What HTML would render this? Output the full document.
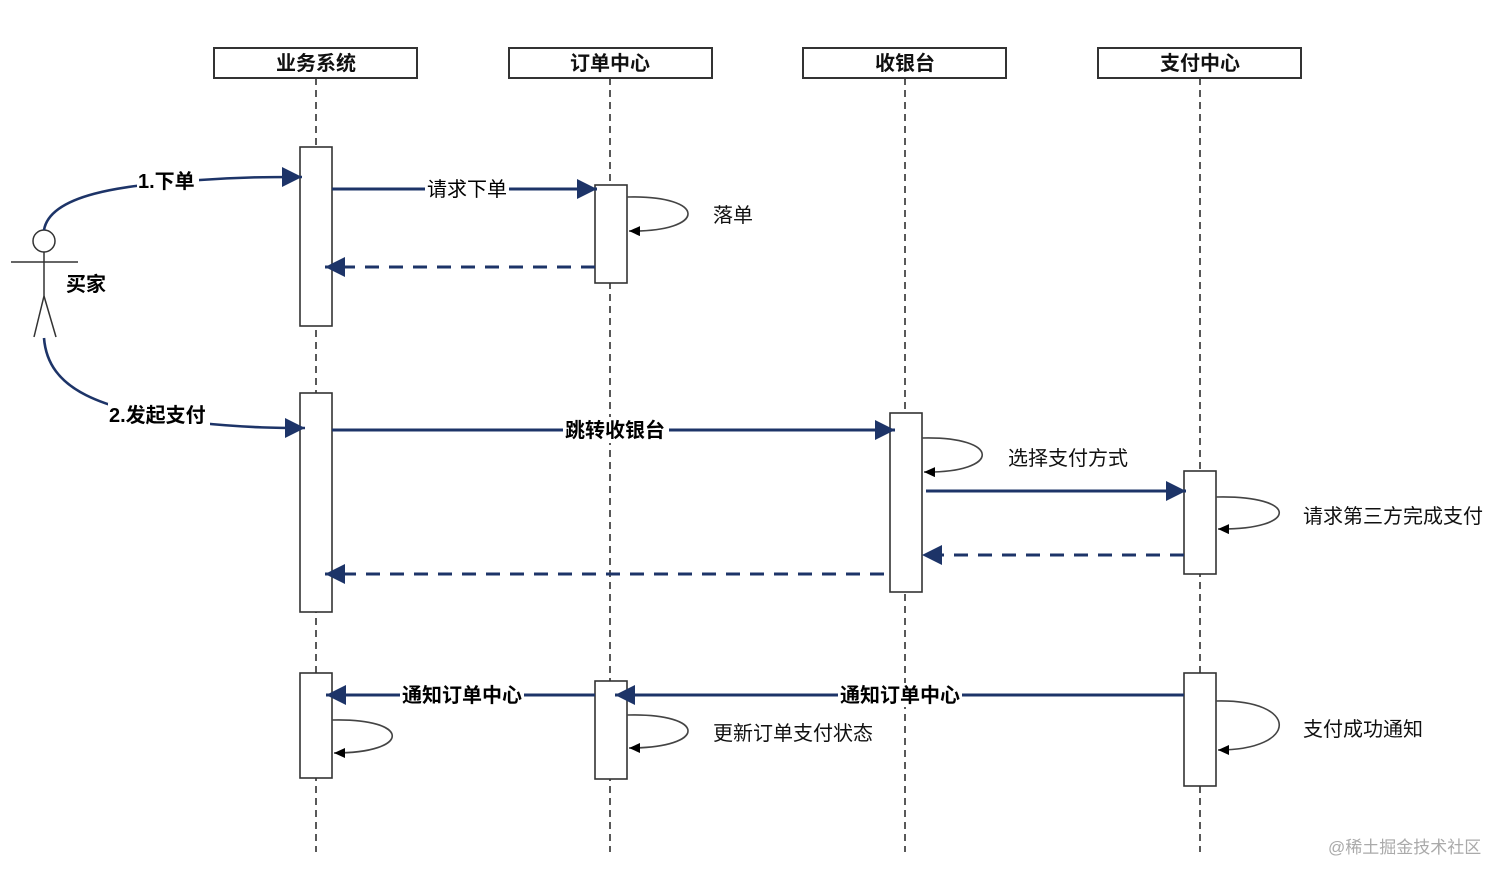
<!DOCTYPE html>
<html><head><meta charset="utf-8"><style>
html,body{margin:0;padding:0;background:#fff;}
svg{display:block;}
text{font-family:"Liberation Sans","Noto Sans CJK SC",sans-serif;}
</style></head><body>
<svg width="1512" height="880" viewBox="0 0 1512 880" xmlns="http://www.w3.org/2000/svg">
<defs>
<marker id="big" markerWidth="22" markerHeight="22" refX="20" refY="10" orient="auto" markerUnits="userSpaceOnUse"><path d="M0,0 L20,10 L0,20 Z" fill="#1d3468"/></marker>
<marker id="sm" markerWidth="12" markerHeight="12" refX="11" refY="5" orient="auto" markerUnits="userSpaceOnUse"><path d="M0,0 L11,5 L0,10 Z" fill="#000"/></marker>
</defs>
<g stroke="#222" stroke-width="1.5" stroke-dasharray="7,5">
<line x1="316" y1="78" x2="316" y2="852"/>
<line x1="610" y1="78" x2="610" y2="852"/>
<line x1="905" y1="78" x2="905" y2="852"/>
<line x1="1200" y1="78" x2="1200" y2="852"/>
</g>
<g fill="#fff" stroke="#333" stroke-width="2">
<rect x="214" y="48" width="203" height="30"/>
<rect x="509" y="48" width="203" height="30"/>
<rect x="803" y="48" width="203" height="30"/>
<rect x="1098" y="48" width="203" height="30"/>
</g>
<g font-size="20" font-weight="bold" text-anchor="middle" fill="#111">
<text x="316" y="70">业务系统</text>
<text x="610" y="70">订单中心</text>
<text x="905" y="70">收银台</text>
<text x="1200" y="70">支付中心</text>
</g>
<g fill="#fff" stroke="#333" stroke-width="1.6">
<rect x="300" y="147" width="32" height="179"/>
<rect x="595" y="185" width="32" height="98"/>
<rect x="300" y="393" width="32" height="219"/>
<rect x="890" y="413" width="32" height="179"/>
<rect x="1184" y="471" width="32" height="103"/>
<rect x="300" y="673" width="32" height="105"/>
<rect x="595" y="681" width="32" height="98"/>
<rect x="1184" y="673" width="32" height="113"/>
</g>
<g stroke="#333" stroke-width="1.5" fill="#fff">
<circle cx="44" cy="241" r="11"/>
<line x1="44" y1="252" x2="44" y2="296"/>
<line x1="11" y1="262" x2="78" y2="262"/>
<line x1="44" y1="296" x2="34" y2="337"/>
<line x1="44" y1="296" x2="56" y2="337"/>
</g>
<text x="66" y="291" font-size="20" font-weight="bold">买家</text>
<g fill="none" stroke="#1d3468" stroke-width="2.6">
<path d="M44,230 C50,195 120,185 200,180 C240,177 270,177 302,177" marker-end="url(#big)"/>
<path d="M44,338 C48,390 100,410 200,423 C250,428 280,428 305,428" marker-end="url(#big)"/>
</g>
<rect x="137" y="169" width="62" height="24" fill="#fff"/>
<text x="138" y="188" font-size="20" font-weight="bold">1.下单</text>
<rect x="108" y="403" width="102" height="26" fill="#fff"/>
<text x="109" y="422" font-size="20" font-weight="bold">2.发起支付</text>
<g fill="none" stroke="#1d3468" stroke-width="3">
<line x1="332" y1="189" x2="597" y2="189" marker-end="url(#big)"/>
<line x1="595" y1="267" x2="325" y2="267" stroke-dasharray="14,10" marker-end="url(#big)"/>
<line x1="332" y1="430" x2="895" y2="430" marker-end="url(#big)"/>
<line x1="926" y1="491" x2="1186" y2="491" marker-end="url(#big)"/>
<line x1="1184" y1="555" x2="922" y2="555" stroke-dasharray="14,10" marker-end="url(#big)"/>
<line x1="884" y1="574" x2="325" y2="574" stroke-dasharray="14,10" marker-end="url(#big)"/>
<line x1="595" y1="695" x2="326" y2="695" marker-end="url(#big)"/>
<line x1="1184" y1="695" x2="615" y2="695" marker-end="url(#big)"/>
</g>
<g fill="#fff">
<rect x="425" y="177" width="84" height="24"/>
<rect x="563" y="417" width="106" height="26"/>
<rect x="400" y="683" width="124" height="24"/>
<rect x="838" y="683" width="124" height="24"/>
</g>
<text x="427" y="196" font-size="20">请求下单</text>
<text x="565" y="437" font-size="20" font-weight="bold">跳转收银台</text>
<text x="402" y="702" font-size="20" font-weight="bold">通知订单中心</text>
<text x="840" y="702" font-size="20" font-weight="bold">通知订单中心</text>
<g fill="none" stroke="#444" stroke-width="1.6">
<path d="M627,197 C708,195 708,232 629,231" marker-end="url(#sm)"/>
<path d="M922,438 C1002,436 1002,473 924,472" marker-end="url(#sm)"/>
<path d="M1216,497 C1300,495 1300,530 1218,529" marker-end="url(#sm)"/>
<path d="M332,720 C412,718 412,753 334,753" marker-end="url(#sm)"/>
<path d="M627,715 C708,713 708,748 629,748" marker-end="url(#sm)"/>
<path d="M1216,701 C1300,699 1300,750 1218,750" marker-end="url(#sm)"/>
</g>
<g font-size="20" fill="#111">
<text x="713" y="222">落单</text>
<text x="1008" y="465">选择支付方式</text>
<text x="1303" y="523">请求第三方完成支付</text>
<text x="713" y="740">更新订单支付状态</text>
<text x="1303" y="736">支付成功通知</text>
</g>
<text x="1328" y="853" font-size="17" fill="#aaa">@稀土掘金技术社区</text>
</svg>
</body></html>
